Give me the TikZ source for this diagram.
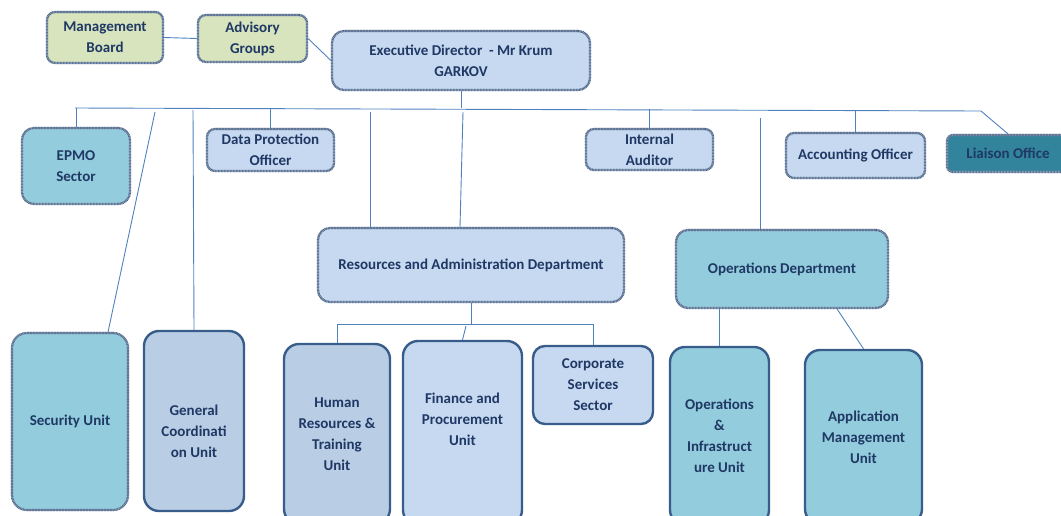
\documentclass[tikz,border=0pt]{standalone}
\usepackage{fontspec}
\setmainfont{Carlito}
\definecolor{txtnavy}{HTML}{1F3864}
\definecolor{linkblue}{HTML}{4F81BD}
\definecolor{solidedge}{HTML}{385D8A}
\definecolor{hatchlt}{HTML}{8EA3BF}
\definecolor{hatchdk}{HTML}{4A5F7D}
\definecolor{greenfill}{HTML}{D7E4BD}
\definecolor{bluefill}{HTML}{C6D9F1}
\definecolor{midfill}{HTML}{B9CDE5}
\definecolor{tealfill}{HTML}{93CDDD}
\definecolor{darkteal}{HTML}{31849B}
\tikzset{
	box/.style={inner sep=0pt, align=center, text=txtnavy, font=\fontsize{15}{21}\selectfont\bfseries},
	hatchbox/.style={box, draw=hatchlt, line width=2.2pt, rounded corners=8pt,
		postaction={draw=hatchdk, line width=2.2pt, dash pattern=on 0.6pt off 0.9pt}},
	unitbox/.style={box, draw=solidedge, line width=2.4pt, rounded corners=15pt},
	link/.style={draw=linkblue, line width=0.9pt}
}
\begin{document}
\begin{tikzpicture}[x=1pt,y=-1pt]
		\useasboundingbox (0,0) rectangle (1061,515);

		\node[hatchbox, fill=greenfill, minimum width=116pt, minimum height=51pt] (mboard) at (105,37.5) {Management\\Board};
		\node[hatchbox, fill=greenfill, minimum width=109pt, minimum height=47pt] (advgrp) at (252.5,38.5) {Advisory\\Groups};
		\node[hatchbox, fill=bluefill, minimum width=258pt, minimum height=59pt, rounded corners=12pt] (execdir) at (461,60.5) {Executive Director\ \ - Mr Krum\\GARKOV};

		\node[hatchbox, fill=tealfill, minimum width=108pt, minimum height=76pt, rounded corners=12pt] (epmo) at (76,166) {EPMO\\Sector};
		\node[hatchbox, fill=bluefill, minimum width=127pt, minimum height=42pt] (dpo) at (270.5,150) {Data Protection\\Officer};
		\node[hatchbox, fill=bluefill, minimum width=127pt, minimum height=41pt] (intaud) at (649.5,149.5) {Internal\\Auditor};
		\node[hatchbox, fill=bluefill, minimum width=139pt, minimum height=45pt] (accoff) at (855.5,155.5) {Accounting Officer};
		\node[hatchbox, fill=darkteal, minimum width=122pt, minimum height=37pt, rounded corners=6pt] (liaison) at (1008,153.5) {Liaison Office};

		\node[hatchbox, fill=tealfill, minimum width=116pt, minimum height=177pt, rounded corners=15pt] (secunit) at (70,421.5) {Security Unit};
		\node[unitbox, fill=midfill, minimum width=100pt, minimum height=180pt] (gcunit) at (194,421) {General\\Coordinati\\on Unit\\[-42pt]};

		\node[hatchbox, fill=bluefill, minimum width=306pt, minimum height=74pt, rounded corners=12pt] (resadm) at (471,265) {Resources and Administration Department};
		\node[hatchbox, fill=tealfill, minimum width=212pt, minimum height=78pt, rounded corners=12pt] (opsdep) at (782,269) {Operations Department};

		\node[unitbox, fill=midfill, minimum width=106pt, minimum height=180pt] (hrtunit) at (337,434) {Human\\Resources \&\\Training\\Unit};
		\node[unitbox, fill=bluefill, minimum width=119pt, minimum height=184pt] (finunit) at (462.5,433) {Finance and\\Procurement\\Unit\\[6pt]};
		\node[unitbox, fill=bluefill, minimum width=120pt, minimum height=78pt, rounded corners=12pt] (corpsec) at (593,385) {Corporate\\Services\\Sector};
		\node[unitbox, fill=tealfill, minimum width=99pt, minimum height=178pt] (oiunit) at (719.5,436) {Operations\\\&\\Infrastruct\\ure Unit};
		\node[unitbox, fill=tealfill, minimum width=117pt, minimum height=174pt] (amunit) at (863.5,437) {Application\\Management\\Unit};

		\coordinate (busl) at (75,108);
		\coordinate (busr) at (981,111);
		\coordinate (sectop) at (155,112);
		\coordinate (gctop) at (193,110);
		\coordinate (radl) at (370,112);
		\coordinate (radm) at (463,112);
		\coordinate (opstop) at (760,118);
		\coordinate (rbus) at (471,324);
		\coordinate (fbus) at (466,326);

		\draw[link] (mboard.east) -- (advgrp.east -| advgrp.west);
		\draw[link] (advgrp.east) -- (execdir.west);
		\draw[link] (execdir.south) -- (execdir.south |- busl);
		\draw[link] (busl) -- (busr);
		\draw[link] (epmo.north) -- (epmo.north |- busl);
		\draw[link] (dpo.north) -- ++(0,-19);
		\draw[link] (intaud.north) -- ++(0,-19);
		\draw[link] (accoff.north) -- ++(0,-22);
		\draw[link] (busr) -- (liaison.north);

		\draw[link] (sectop) -- (secunit.67);
		\draw[link] (gctop) -- (gcunit.north);
		\draw[link] (radl) -- (radl |- resadm.north);
		\draw[link] (radm) -- ([xshift=-3pt]radm |- resadm.north);
		\draw[link] (opstop) -- (opstop |- opsdep.north);

		\draw[link] (resadm.south) -- (rbus);
		\draw[link] (hrtunit.north) -- (hrtunit.north |- rbus) -- (corpsec.north |- rbus) -- (corpsec.north);
		\draw[link] (fbus) -- (finunit.north);
		\draw[link] (oiunit.north) -- (oiunit.north |- opsdep.south);
		\draw[link] (opsdep.-36) -- (amunit.north);

	\end{tikzpicture}
\end{document}
